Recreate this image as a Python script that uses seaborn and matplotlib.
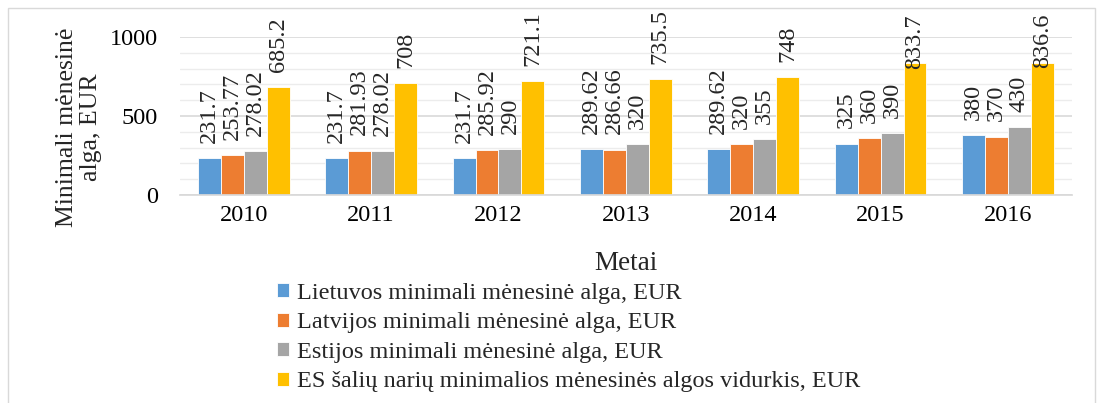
import pandas as pd
import seaborn as sns
import matplotlib.pyplot as plt
from matplotlib.patches import Rectangle

years = ['2010', '2011', '2012', '2013', '2014', '2015', '2016']
series = [
    'Lietuvos minimali mėnesinė alga, EUR',
    'Latvijos minimali mėnesinė alga, EUR',
    'Estijos minimali mėnesinė alga, EUR',
    'ES šalių narių minimalios mėnesinės algos vidurkis, EUR',
]
lt = [231.7, 231.7, 231.7, 289.62, 289.62, 325, 380]
lv = [253.77, 281.93, 285.92, 286.66, 320, 360, 370]
ee = [278.02, 278.02, 290, 320, 355, 390, 430]
es = [685.2, 708, 721.1, 735.5, 748, 833.7, 836.6]
colors = ['#5B9BD5', '#ED7D31', '#A5A5A5', '#FFC000']


def main():
    sns.set_theme(style='white')
    plt.rcParams['font.family'] = ['Liberation Serif', 'DejaVu Serif']

    rows = []
    for name, vals in zip(series, [lt, lv, ee, es]):
        for y, v in zip(years, vals):
            rows.append({'Metai': y, 'Serija': name, 'Vertė': v})
    data = pd.DataFrame(rows)

    fig = plt.figure(figsize=(10.98, 4.03), dpi=100)
    ax = fig.add_axes([0.164, 0.516, 0.812, 0.392])
    sns.barplot(data=data, x='Metai', y='Vertė', hue='Serija',
                palette=colors, width=0.72, ax=ax, saturation=1,
                edgecolor='white', linewidth=0.6)

    # labels that would run off the top are pushed down onto the bar
    for cont, vals in zip(ax.containers, [lt, lv, ee, es]):
        for bar, v in zip(cont, vals):
            pad = 11 if v < 800 else -4
            ax.annotate(f'{v:g}',
                        xy=(bar.get_x() + bar.get_width() / 2,
                            bar.get_height()),
                        xytext=(0, pad), textcoords='offset points',
                        rotation=90, ha='center', va='bottom',
                        fontsize=17.5, annotation_clip=False)

    ax.set_ylim(0, 1000)
    ax.set_yticks([0, 500, 1000])
    ax.set_yticks(range(0, 1001, 100), minor=True)
    ax.grid(axis='y', which='minor', color='#ececec', linewidth=1)
    ax.grid(axis='y', which='major', color='#d9d9d9', linewidth=1.2)
    ax.set_axisbelow(True)
    for s in ['top', 'right', 'left']:
        ax.spines[s].set_visible(False)
    ax.spines['bottom'].set_color('#d9d9d9')
    ax.tick_params(axis='both', which='both', length=0, labelsize=17.5,
                   colors='black')
    ax.tick_params(axis='x', pad=7)
    ax.tick_params(axis='y', pad=16)
    ax.set_xlabel('Metai', fontsize=19.5, labelpad=18)
    ax.set_ylabel('Minimali mėnesinė\nalga, EUR', fontsize=18.5,
                  linespacing=1.1)
    ax.yaxis.set_label_coords(-0.088, 0.43)

    ax.legend(loc='upper left', bbox_to_anchor=(0.2415, 0.328),
              bbox_transform=fig.transFigure, frameon=False,
              fontsize=17.5, handlelength=0.5, handleheight=0.5,
              handletextpad=0.3, labelspacing=0.35, borderpad=0)

    fig.patches.append(Rectangle((0.007, -0.01), 0.99, 0.99,
                                 transform=fig.transFigure, fill=False,
                                 edgecolor='#d9d9d9', linewidth=1))
    fig.savefig('out.png', dpi=100)


if __name__ == '__main__':
    main()
